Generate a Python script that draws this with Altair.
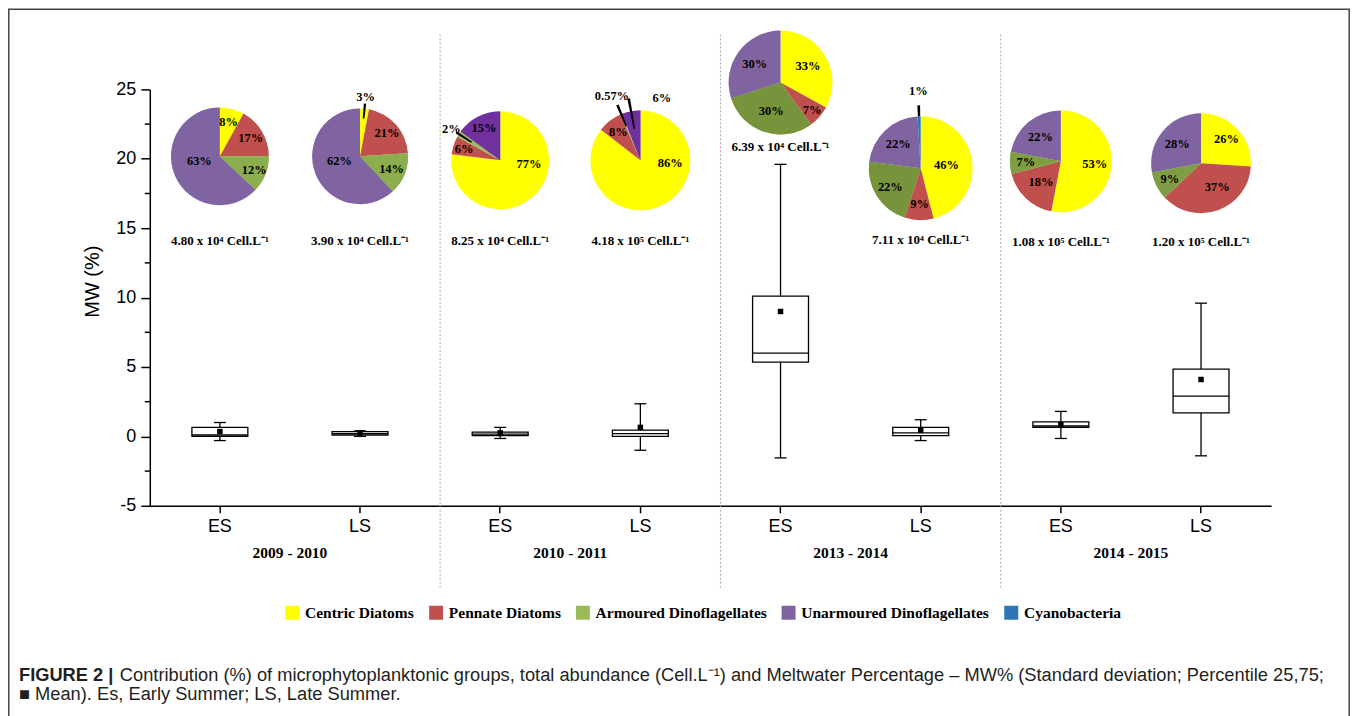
import altair as alt
import pandas as pd

# ---------------- data ----------------
SEASONS = ["ES", "LS", "ES", "LS", "ES", "LS", "ES", "LS"]
YEARS = ["2009 - 2010", "2009 - 2010", "2010 - 2011", "2010 - 2011",
         "2013 - 2014", "2013 - 2014", "2014 - 2015", "2014 - 2015"]
YEAR_LABELS = ["2009 - 2010", "2010 - 2011", "2013 - 2014", "2014 - 2015"]

GROUPS = ["Centric Diatoms", "Pennate Diatoms", "Armoured Dinoflagellates",
          "Unarmoured Dinoflagellates", "Cyanobacteria"]
CENTRIC = [8, 3, 77, 86, 33, 46, 53, 26]
PENNATE = [17, 21, 6, 8, 7, 9, 18, 37]
ARMOURED = [12, 14, 2, 0.57, 30, 22, 7, 9]
UNARMOURED = [63, 62, 15, 6, 30, 22, 22, 28]
CYANO = [0, 0, 0, 0, 0, 1, 0, 0]

ABUND_MANTISSA = [4.80, 3.90, 8.25, 4.18, 6.39, 7.11, 1.08, 1.20]
ABUND_EXPONENT = [4, 4, 4, 5, 4, 4, 5, 5]

MW_LOW = [-0.3, 0.0, -0.15, -1.0, -1.55, -0.3, -0.15, -1.4]
MW_Q1 = [0.0, 0.1, 0.05, 0.0, 5.35, 0.05, 0.65, 1.7]
MW_MEDIAN = [0.1, 0.2, 0.17, 0.2, 6.0, 0.25, 0.75, 2.9]
MW_Q3 = [0.65, 0.35, 0.3, 0.45, 10.1, 0.65, 1.05, 4.85]
MW_HIGH = [1.0, 0.4, 0.65, 2.35, 19.6, 1.2, 1.8, 9.6]
MW_MEAN = [0.35, 0.25, 0.25, 0.65, 9.0, 0.45, 0.85, 4.1]

Y_TICKS = [-5, 0, 5, 10, 15, 20, 25]
Y_MINOR = [-2.5, 2.5, 7.5, 12.5, 17.5, 22.5]

CAPTION_BOLD = "FIGURE 2 |"
CAPTION_1 = ("Contribution (%) of microphytoplanktonic groups, total abundance (Cell.L\u207b\u00b9) "
             "and Meltwater Percentage \u2013 MW% (Standard deviation; Percentile 25,75;")
CAPTION_2 = "\u25a0 Mean). Es, Early Summer; LS, Late Summer."

# ---------------- layout / style ----------------
PIE_CY = [20.18, 20.18, 19.89, 19.89, 25.5, 19.32, 19.82, 19.68]   # pie centre (MW axis units)
PIE_R = [49, 48, 49, 50, 52, 52, 51, 50]                             # pie radius, px
CELL_Y = [14.06, 14.06, 14.06, 14.06, 20.83, 14.14, 13.99, 13.99]    # abundance label (MW units)
LABEL_R = [[35, 36, 37, 21, 0], [60, 36, 34, 21, 0], [29, 38, 58, 36, 0],
           [30, 36, 70, 66, 0], [32, 42, 30, 32, 0], [26, 36, 36, 33, 77],
           [34, 29, 35, 32, 0], [35, 29, 35, 31, 0]]
LABEL_ANGLE = {(0, 3): 258, (1, 3): 258, (2, 0): 98, (3, 0): 95,
               (3, 2): 336, (3, 3): 19, (7, 1): 146}
LEADERS = {(1, 0): (38, 53), (2, 2): (34, 52), (3, 2): (37, 60),
           (3, 3): (32, 63), (5, 4): (52, 63)}
COLOR_RANGE = ["#FFFF00", "#C0504D", "#9BBB59", "#8064A2", "#2E75B6"]
SLICE_COLOR = {(0, 2): "#8DAE4E", (1, 2): "#8DAE4E", (6, 2): "#7F9E44", (7, 2): "#7F9E44",
               (2, 3): "#7030A0", (3, 3): "#7030A0",
               (4, 2): "#77933C", (5, 2): "#77933C"}

W, H = 1123, 417
SERIF = "Liberation Serif"
SANS = "Liberation Sans"

# ---------------- tables ----------------
cats = [f"{s}|{y}" for s, y in zip(SEASONS, YEARS)]
box_df = pd.DataFrame({"cat": cats, "lo": MW_LOW, "q1": MW_Q1, "med": MW_MEDIAN,
                       "q3": MW_Q3, "hi": MW_HIGH, "mean": MW_MEAN})

series = [CENTRIC, PENNATE, ARMOURED, UNARMOURED, CYANO]
rows = []
for i, c in enumerate(cats):
    for j, g in enumerate(GROUPS):
        v = series[j][i]
        if v <= 0:
            continue
        lead = LEADERS.get((i, j))
        rows.append({"cat": c, "order": j, "group": g, "value": float(v),
                     "cy": PIE_CY[i], "r": PIE_R[i], "lr": LABEL_R[i][j],
                     "ang": LABEL_ANGLE.get((i, j)),
                     "lin": lead[0] if lead else None,
                     "lout": lead[1] if lead else None,
                     "ov": SLICE_COLOR.get((i, j))})
pie_df = pd.DataFrame(rows)

cell_df = pd.DataFrame({"cat": cats, "m": ABUND_MANTISSA, "e": ABUND_EXPONENT, "ly": CELL_Y})
year_df = pd.DataFrame({"cat": [cats[2 * k + 1] for k in range(4)], "year": YEAR_LABELS})
sep_df = pd.DataFrame({"cat": [cats[2 * k] for k in range(1, 4)]})
minor_df = pd.DataFrame({"v": Y_MINOR})
one = pd.DataFrame({"a": [0]})

# ---------------- scales ----------------
XS = alt.Scale(type="band", domain=cats, paddingInner=0, paddingOuter=0)
YS = alt.Scale(domain=[-5, 25], nice=False, zero=False)
TS = alt.Scale(domain=[0, 1], range=[0, 6.283185307179586])


def X(**kw):
    return alt.X("cat:N", scale=XS, title=None, **kw)


def Y(field, **kw):
    return alt.Y(field, scale=YS, stack=False, title="MW (%)", **kw)


y_axis = alt.Axis(values=Y_TICKS, labelExpr="'' + datum.value", tickSize=9, labelPadding=5,
                  titleFontSize=20, titleAngle=270, titleX=-57, titleY=192,
                  titleAlign="center", titleBaseline="middle")

# ---------------- box plots ----------------
box_base = alt.Chart(box_df)
whisk = box_base.mark_rule(color="black", strokeWidth=1.3).encode(
    x=X(), y=Y("lo:Q", axis=y_axis), y2="hi:Q")
box = box_base.mark_bar(width=56, fill="white", stroke="black", strokeWidth=1.3).encode(
    x=X(), y=Y("q1:Q"), y2="q3:Q")
med = box_base.mark_tick(size=56, thickness=1.3, color="black", opacity=1).encode(
    x=X(), y=Y("med:Q"))
cap_lo = box_base.mark_tick(size=12, thickness=1.3, color="black", opacity=1).encode(
    x=X(), y=Y("lo:Q"))
cap_hi = box_base.mark_tick(size=12, thickness=1.3, color="black", opacity=1).encode(
    x=X(), y=Y("hi:Q"))
mean = box_base.mark_square(size=30, color="black", filled=True, opacity=1).encode(
    x=X(), y=Y("mean:Q"))
minor = alt.Chart(minor_df).mark_rule(color="black", strokeWidth=1.5).encode(
    y=Y("v:Q"), x=alt.value(-5), x2=alt.value(0))
seps = alt.Chart(sep_df).mark_rule(color="#aaaaaa", strokeWidth=1, strokeDash=[2, 2],
                                   xOffset=10).encode(
    x=X(bandPosition=0), y=alt.value(-55), y2=alt.value(500))
years = alt.Chart(year_df).mark_text(font=SERIF, fontWeight="bold", fontSize=15.5,
                                     color="black", baseline="middle").encode(
    x=X(bandPosition=0), y=alt.value(464), text="year:N")

# ---------------- pies ----------------
pie_base = alt.Chart(pie_df).transform_joinaggregate(
    total="sum(value)", groupby=["cat"]
).transform_window(
    cum="sum(value)", groupby=["cat"], sort=[alt.SortField("order", order="ascending")]
).transform_calculate(
    t0="(datum.cum - datum.value) / datum.total",
    t1="datum.cum / datum.total",
    tm="(datum.cum - datum.value / 2) / datum.total",
)


def PX():
    return dict(x=X(), y=Y("cy:Q"))


arcs = pie_base.mark_arc().encode(
    theta=alt.Theta("t0:Q", scale=TS, stack=False), theta2="t1:Q",
    radius=alt.Radius("r:Q", scale=None),
    color=alt.Color("group:N", scale=alt.Scale(domain=GROUPS, range=COLOR_RANGE),
                    legend=alt.Legend(title=None, orient="none", legendX=135, legendY=516,
                                      direction="horizontal", symbolType="square",
                                      symbolSize=196, symbolStrokeWidth=0, symbolOpacity=1,
                                      labelFont=SERIF, labelFontWeight="bold",
                                      labelFontSize=15.5, labelColor="black",
                                      labelOffset=5, columnPadding=14, padding=0,
                                      labelLimit=400)),
    **PX())
arcs_ov = pie_base.transform_filter("isValid(datum.ov)").mark_arc().encode(
    theta=alt.Theta("t0:Q", scale=TS, stack=False), theta2="t1:Q",
    radius=alt.Radius("r:Q", scale=None),
    fill=alt.Fill("ov:N", scale=None), **PX())
leaders = pie_base.transform_filter("isValid(datum.lin)").transform_calculate(
    a0="datum.tm - 0.0035", a1="datum.tm + 0.0035"
).mark_arc(color="black").encode(
    theta=alt.Theta("a0:Q", scale=TS, stack=False), theta2="a1:Q",
    radius=alt.Radius("lout:Q", scale=None), radius2="lin:Q", **PX())
pct = pie_base.transform_calculate(
    ta="isValid(datum.ang) ? datum.ang / 360 : datum.tm",
    lbl="datum.value + '%'"
).mark_text(font=SERIF, fontWeight="bold", fontSize=12.5, color="black",
            align="center", baseline="middle").encode(
    theta=alt.Theta("ta:Q", scale=TS, stack=False),
    radius=alt.Radius("lr:Q", scale=None), text="lbl:N", **PX())
cell = alt.Chart(cell_df).transform_calculate(
    txt="format(datum.m, '.2f') + ' x 10' + (datum.e == 4 ? '\u2074' : '\u2075') + ' Cell.L\u207b\u00b9'"
).mark_text(font=SERIF, fontWeight="bold", fontSize=13, color="black",
            baseline="middle").encode(
    x=X(), y=Y("ly:Q"), text="txt:N")

# ---------------- frame & caption ----------------
frame = alt.Chart(one).mark_rect(fillOpacity=0, stroke="#444444", strokeWidth=1.5).encode(
    x=alt.value(-141.2), x2=alt.value(1201.2), y=alt.value(-80.2), y2=alt.value(640))
cap_b = alt.Chart(one).mark_text(text=CAPTION_BOLD, font=SANS, fontWeight="bold",
                                 fontSize=18.3, align="left", baseline="middle",
                                 color="#231F20").encode(x=alt.value(-131), y=alt.value(587))
cap_1 = alt.Chart(one).mark_text(text=CAPTION_1, font=SANS, fontSize=18.3, align="left",
                                 baseline="middle", color="#231F20").encode(
    x=alt.value(-30), y=alt.value(587))
cap_2 = alt.Chart(one).mark_text(text=CAPTION_2, font=SANS, fontSize=18.3, align="left",
                                 baseline="middle", color="#231F20").encode(
    x=alt.value(-131), y=alt.value(607))

chart = alt.layer(
    whisk, seps, box, med, cap_lo, cap_hi, mean, minor, years,
    arcs, arcs_ov, leaders, pct, cell,
    frame, cap_b, cap_1, cap_2,
).properties(
    width=W, height=H,
    autosize=alt.AutoSizeParams(type="none"),
    padding={"left": 142, "top": 81, "right": 79, "bottom": 210},
    background="white",
).configure_view(
    stroke=None
).configure_axis(
    grid=False, labelColor="black", tickColor="black", domainColor="black",
    domainWidth=1.5, tickWidth=1.5, labelFont=SANS, labelFontSize=18,
    titleFont=SANS, titleFontWeight="normal", titleColor="black",
).configure_axisX(
    labelExpr="split(datum.label, '|')[0]", labelAngle=0, tickSize=7, labelPadding=5,
)

chart.save("out.html", embed_options={"renderer": "svg", "actions": False})
